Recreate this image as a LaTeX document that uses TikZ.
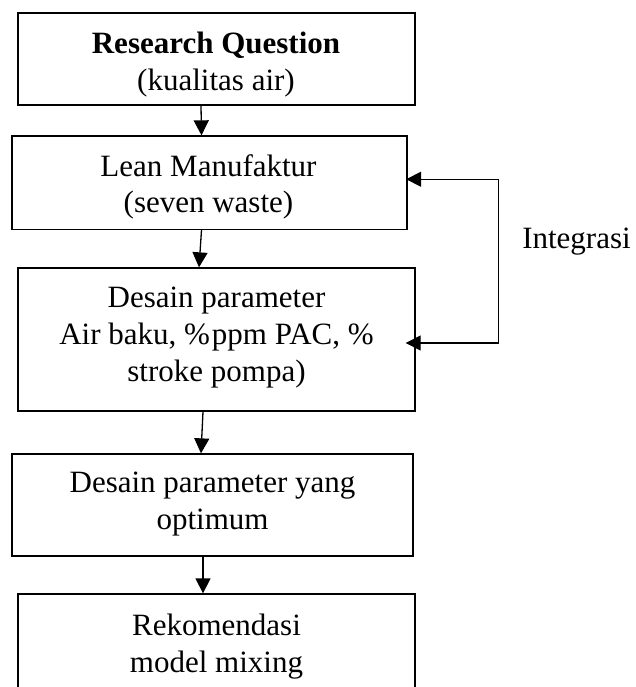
\documentclass[tikz,border=0pt]{standalone}
\usepackage{fontspec}
\setmainfont{Liberation Serif}
\usetikzlibrary{arrows.meta}
\begin{document}
\begin{tikzpicture}[x=1pt,y=-1pt,
  box/.style={draw, line width=1.3pt, rectangle, inner sep=0pt},
  txt/.style={align=center, inner sep=0pt, font=\fontsize{31}{36.8}\selectfont},
  arr/.style={line width=1.3pt, -{Triangle[length=15pt,width=15pt]}},
  biarr/.style={line width=1.3pt, {Triangle[length=15pt,width=15pt]}-{Triangle[length=15pt,width=15pt]}}]
\useasboundingbox (0,0) rectangle (636,687);
% boxes
\node[box, minimum width=397pt, minimum height=92pt] (b1) at (216.5,59) {};
\node[box, minimum width=395pt, minimum height=93.5pt] (b2) at (209.5,182.75) {};
\node[box, minimum width=397pt, minimum height=143pt] (b3) at (216.5,339.5) {};
\node[box, minimum width=401pt, minimum height=102pt] (b4) at (212.5,505) {};
\node[box, minimum width=397pt, minimum height=106pt] (b5) at (216.5,647) {};
% texts
\node[txt] (t1) at (216,64.2) {\textbf{Research Question}\\(kualitas air)};
\node[txt] (t2) at (208.5,186.9) {Lean Manufaktur\\(seven waste)};
\node[txt] (t3) at (216.5,337.6) {Desain parameter\\Air baku, \%\kern2pt ppm PAC, \%\\stroke pompa)};
\node[txt] (t4) at (212.5,504.2) {Desain parameter yang\\optimum};
\node[txt] (t5) at (216.5,646.2) {Rekomendasi\\model mixing};
\node[txt, anchor=base] (int) at (576.5,248) {Integrasi};
% connectors
\draw[arr] ([xshift=-15.5pt]b1.south) -- ([xshift=-8pt]b2.north);
\draw[arr] ([xshift=-8pt]b2.south) -- ([xshift=-17.5pt]b3.north);
\draw[arr] ([xshift=-13.5pt]b3.south) -- ([xshift=-11.5pt]b4.north);
\draw[arr] ([xshift=-9.5pt]b4.south) -- ([xshift=-13.5pt]b5.north);
\coordinate (t2e) at ([xshift=-1.5pt,yshift=3.5pt]b2.east);
\coordinate (t3e) at ([xshift=-10pt,yshift=-3.5pt]b3.east);
\draw[biarr] (t2e) -- ++(92.5,0) |- (t3e);
\end{tikzpicture}
\end{document}
